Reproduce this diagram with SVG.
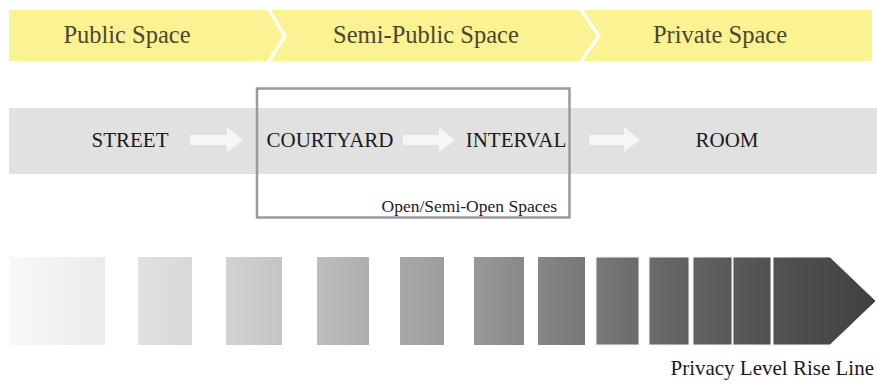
<svg xmlns="http://www.w3.org/2000/svg" width="877" height="392" viewBox="0 0 877 392">
  <defs>
    <style>
      .band { fill: #fbf392; }
      .band-label { font-family: "Liberation Serif", "Times New Roman", serif; font-size: 24.5px; fill: #4a4632; text-anchor: middle; }
      .place { font-family: "Liberation Serif", "Times New Roman", serif; font-size: 21px; fill: #1a1a1a; text-anchor: middle; }
      .flow { fill: #f6f6f6; }
      .note { font-family: "Liberation Serif", "Times New Roman", serif; font-size: 17.5px; fill: #222; text-anchor: end; }
      .step { stroke: #f4f4f4; stroke-width: 1; }
    </style>
    <linearGradient id="g1" x1="0" x2="1" y1="0" y2="0"><stop offset="0" stop-color="#f8f8f8"/><stop offset="1" stop-color="#ebebeb"/></linearGradient>
    <linearGradient id="g2" x1="0" x2="1" y1="0" y2="0"><stop offset="0" stop-color="#e1e1e1"/><stop offset="1" stop-color="#d8d8d8"/></linearGradient>
    <linearGradient id="g3" x1="0" x2="1" y1="0" y2="0"><stop offset="0" stop-color="#d2d2d2"/><stop offset="1" stop-color="#c5c5c5"/></linearGradient>
    <linearGradient id="g4" x1="0" x2="1" y1="0" y2="0"><stop offset="0" stop-color="#bdbdbd"/><stop offset="1" stop-color="#afafaf"/></linearGradient>
    <linearGradient id="g5" x1="0" x2="1" y1="0" y2="0"><stop offset="0" stop-color="#a8a8a8"/><stop offset="1" stop-color="#9d9d9d"/></linearGradient>
    <linearGradient id="g6" x1="0" x2="1" y1="0" y2="0"><stop offset="0" stop-color="#999999"/><stop offset="1" stop-color="#888888"/></linearGradient>
    <linearGradient id="g7" x1="0" x2="1" y1="0" y2="0"><stop offset="0" stop-color="#878787"/><stop offset="1" stop-color="#767676"/></linearGradient>
    <linearGradient id="g8" x1="0" x2="1" y1="0" y2="0"><stop offset="0" stop-color="#7a7a7a"/><stop offset="1" stop-color="#6a6a6a"/></linearGradient>
    <linearGradient id="g9" x1="0" x2="1" y1="0" y2="0"><stop offset="0" stop-color="#6c6c6c"/><stop offset="1" stop-color="#5f5f5f"/></linearGradient>
    <linearGradient id="g10" x1="0" x2="1" y1="0" y2="0"><stop offset="0" stop-color="#636363"/><stop offset="1" stop-color="#585858"/></linearGradient>
    <linearGradient id="g11" x1="0" x2="1" y1="0" y2="0"><stop offset="0" stop-color="#5a5a5a"/><stop offset="1" stop-color="#505050"/></linearGradient>
    <linearGradient id="g12" x1="0" x2="1" y1="0" y2="0"><stop offset="0" stop-color="#535353"/><stop offset="1" stop-color="#404040"/></linearGradient>
  </defs>

  <rect width="877" height="392" fill="#ffffff"/>

  <!-- zone chevrons -->
  <g id="public-space">
    <polygon class="band" points="9,10 267,10 283,36 267,61 9,61"/>
    <text class="band-label" x="127" y="43">Public Space</text>
  </g>
  <g id="semi-public-space">
    <polygon class="band" points="271,10 579,10 597,36 579,61 271,61 287,36"/>
    <text class="band-label" x="426" y="43">Semi-Public Space</text>
  </g>
  <g id="private-space">
    <polygon class="band" points="583,10 872,10 872,61 583,61 601,36"/>
    <text class="band-label" x="720" y="43">Private Space</text>
  </g>

  <!-- sequence of spaces -->
  <rect id="sequence-band" x="9" y="108" width="868" height="66" fill="#e1e1e1"/>

  <g id="street">
    <text class="place" x="130" y="147">STREET</text>
  </g>
  <g id="courtyard">
    <text class="place" x="330" y="147">COURTYARD</text>
  </g>
  <g id="interval">
    <text class="place" x="516" y="147">INTERVAL</text>
  </g>
  <g id="room">
    <text class="place" x="727" y="147">ROOM</text>
  </g>

  <g id="connectors">
    <polygon class="flow" points="190,135 227,135 227,127 243,140 227,152 227,145 190,145"/>
    <polygon class="flow" points="403,135 439,135 439,127 455,140 439,152 439,145 403,145"/>
    <polygon class="flow" points="589,135 624,135 624,127 640,140 624,152 624,145 589,145"/>
  </g>

  <!-- open / semi-open grouping -->
  <g id="open-spaces">
    <rect x="257" y="88.5" width="312.5" height="129" fill="none" stroke="#9a9a9a" stroke-width="2.5"/>
    <text class="note" x="557" y="212">Open/Semi-Open Spaces</text>
  </g>

  <!-- privacy gradient scale -->
  <g id="privacy-scale">
    <rect x="10" y="257" width="95" height="88" fill="url(#g1)"/>
    <rect x="138" y="257" width="54" height="88" fill="url(#g2)"/>
    <rect x="226" y="257" width="56" height="88" fill="url(#g3)"/>
    <rect x="317" y="257" width="52" height="88" fill="url(#g4)"/>
    <rect x="400" y="257" width="44" height="88" fill="url(#g5)"/>
    <rect x="474" y="257" width="50" height="88" fill="url(#g6)"/>
    <rect x="538" y="257" width="47" height="88" fill="url(#g7)"/>
    <rect class="step" x="596" y="257" width="43" height="88" fill="url(#g8)"/>
    <rect class="step" x="649" y="257" width="40" height="88" fill="url(#g9)"/>
    <rect class="step" x="693" y="257" width="39" height="88" fill="url(#g10)"/>
    <rect class="step" x="733" y="257" width="38" height="88" fill="url(#g11)"/>
    <polygon class="step" points="773,257 830,257 876,301 830,345 773,345" fill="url(#g12)"/>
    <text x="874" y="375" font-family="Liberation Serif, Times New Roman, serif" font-size="21" fill="#1a1a1a" text-anchor="end">Privacy Level Rise Line</text>
  </g>
</svg>
